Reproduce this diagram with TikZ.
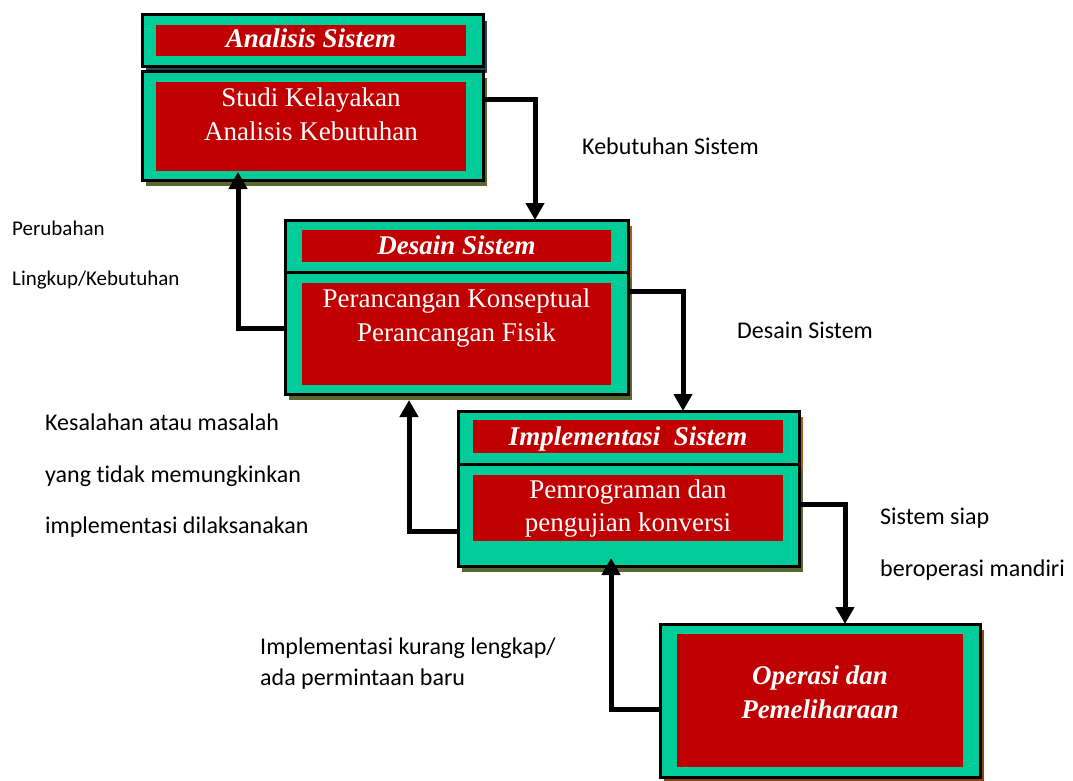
\documentclass[tikz,border=0pt]{standalone}
\usepackage{fontspec}
\setmainfont{Liberation Serif}
\newfontfamily\labelfont[Ligatures=NoCommon]{Carlito}
\usetikzlibrary{arrows.meta,shadows}

\definecolor{panelgreen}{RGB}{0,204,153}
\definecolor{panelred}{RGB}{192,0,0}
\definecolor{shadeolive}{RGB}{88,104,48}
\definecolor{shadeslate}{RGB}{40,72,88}
\definecolor{shadesienna}{RGB}{176,88,30}
\definecolor{shadebrown}{RGB}{140,70,20}

\begin{document}
\begin{tikzpicture}[x=1pt,y=-1pt,
  frame/.style={rectangle, draw=black, line width=3pt, fill=panelgreen,
    inner sep=0pt, outer sep=0pt, anchor=north west},
  castshadow/.style={drop shadow={shadow xshift=4pt, shadow yshift=-6pt,
    fill=#1, opacity=1}},
  panel/.style={rectangle, fill=panelred, inner sep=0pt, outer sep=0pt,
    anchor=north west},
  title/.style={anchor=base, text=white, inner sep=0pt,
    font=\fontsize{27}{33}\selectfont\bfseries\itshape},
  body/.style={anchor=base, text=white, inner sep=0pt,
    font=\fontsize{27}{33}\selectfont},
  note/.style={anchor=base west, inner sep=0pt,
    font=\labelfont\fontsize{24}{29}\selectfont},
  smallnote/.style={anchor=base west, inner sep=0pt,
    font=\labelfont\fontsize{21}{25}\selectfont},
  flow/.style={line width=5pt, line join=miter,
    -{Triangle[width=18pt,length=17pt]}},
]
\useasboundingbox (0,0) rectangle (1073,781);

% Stage 1: Analisis Sistem
\node[frame, castshadow=shadeslate, minimum width=341pt, minimum height=52pt] (ah) at (142,15) {};
\node[frame, castshadow=shadeolive, minimum width=341pt, minimum height=108pt] (ab) at (142,72) {};
\node[panel, minimum width=310pt, minimum height=31pt] (ahp) at (156,25) {};
\node[panel, minimum width=310pt, minimum height=89pt] (abp) at (156,82) {};
\node[title] (aht) at (ahp.center |- 0,48) {Analisis Sistem};
\node[body] (abt1) at (abp.center |- 0,107) {Studi Kelayakan};
\node[body] (abt2) at (abp.center |- 0,140) {Analisis Kebutuhan};

% Stage 2: Desain Sistem
\node[frame, castshadow=shadesienna, minimum width=343pt, minimum height=52pt] (bh) at (285,220) {};
\node[frame, castshadow=shadeolive, minimum width=343pt, minimum height=122pt] (bb) at (285,272) {};
\node[panel, minimum width=309pt, minimum height=32pt] (bhp) at (302,230) {};
\node[panel, minimum width=309pt, minimum height=102pt] (bbp) at (302,283) {};
\node[title] (bht) at (bhp.center |- 0,254) {Desain Sistem};
\node[body] (bbt1) at (bbp.center |- 0,307) {Perancangan Konseptual};
\node[body] (bbt2) at (bbp.center |- 0,341) {Perancangan Fisik};

% Stage 3: Implementasi Sistem
\node[frame, castshadow=shadesienna, minimum width=341pt, minimum height=53pt] (ch) at (458,411) {};
\node[frame, castshadow=shadeolive, minimum width=341pt, minimum height=102pt] (cb) at (458,464) {};
\node[panel, minimum width=310pt, minimum height=33pt] (chp) at (473,420) {};
\node[panel, minimum width=310pt, minimum height=66pt] (cbp) at (473,475) {};
\node[title] (cht) at (chp.center |- 0,445) {Implementasi\ \ Sistem};
\node[body] (cbt1) at (cbp.center |- 0,498) {Pemrograman dan};
\node[body] (cbt2) at (cbp.center |- 0,531) {pengujian konversi};

% Stage 4: Operasi dan Pemeliharaan
\node[frame, castshadow=shadebrown, minimum width=320pt, minimum height=153pt] (d) at (660,624) {};
\node[panel, minimum width=286pt, minimum height=133pt] (dp) at (677,634) {};
\node[title] (dt1) at (dp.center |- 0,684) {Operasi dan};
\node[title] (dt2) at (dp.center |- 0,718) {Pemeliharaan};

% Forward flow
\draw[flow] (ab.east |- 0,100) -| (535,0 |- bh.north);
\draw[flow] (bb.east |- 0,291) -| (683,0 |- ch.north);
\draw[flow] (cb.east |- 0,504) -| (845,0 |- d.north);

% Feedback flow
\draw[flow, shorten >=-8pt] (bb.west |- 0,328) -| (238,0 |- ab.south);
\draw[flow, shorten >=6pt] (cb.west |- 0,531) -| (409,0 |- bb.south);
\draw[flow, shorten >=-8pt] (d.west |- 0,709) -| (611,0 |- cb.south);

% Flow labels
\node[note] (n1) at (582,154) {Kebutuhan Sistem};
\node[note] (n2) at (737,338) {Desain Sistem};
\node[note] (n3a) at (880,524) {Sistem siap};
\node[note] (n3b) at (880,576) {beroperasi mandiri};
\node[smallnote] (r1a) at (12,235) {Perubahan};
\node[smallnote] (r1b) at (12,285) {Lingkup/Kebutuhan};
\node[note] (r2a) at (45,430) {Kesalahan atau masalah};
\node[note] (r2b) at (45,482) {yang tidak memungkinkan};
\node[note] (r2c) at (45,533) {implementasi dilaksanakan};
\node[note] (r3a) at (260,654) {Implementasi kurang lengkap/};
\node[note] (r3b) at (260,685) {ada permintaan baru};
\end{tikzpicture}
\end{document}
